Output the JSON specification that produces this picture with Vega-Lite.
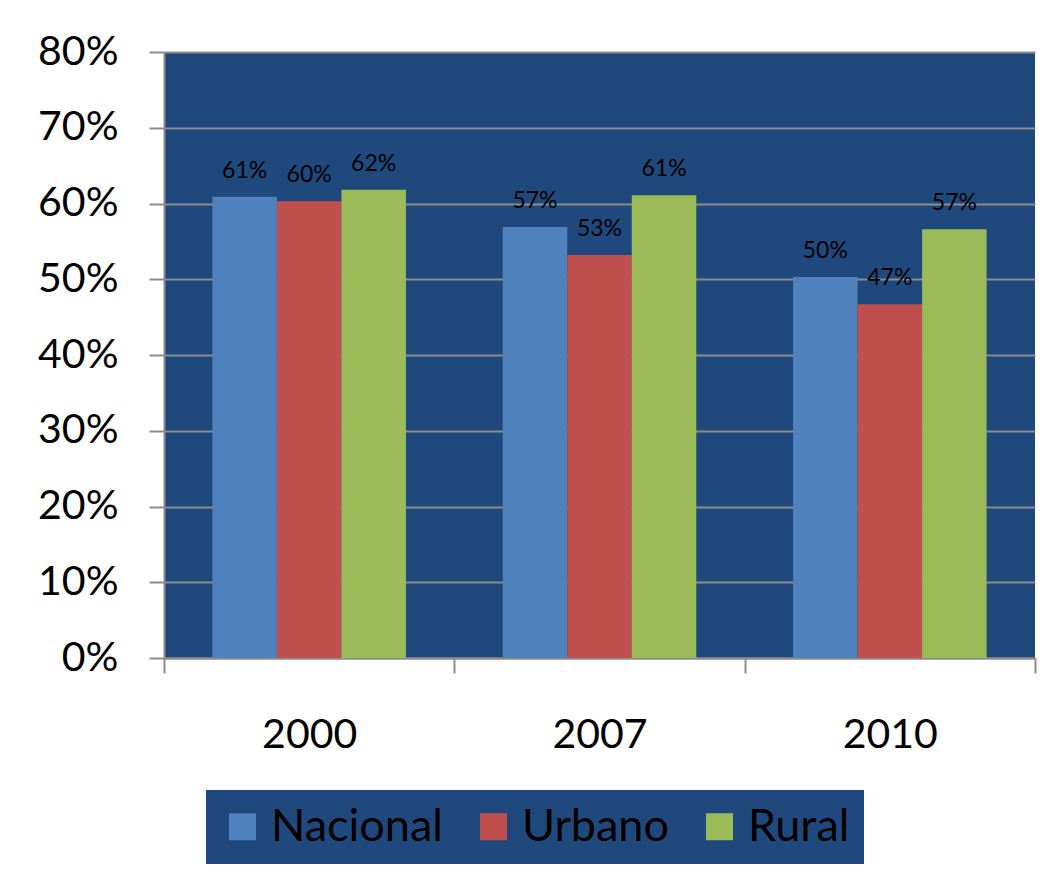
{
  "$schema": "https://vega.github.io/schema/vega-lite/v6.json",
  "width": 871,
  "height": 606,
  "autosize": {"type": "none"},
  "padding": {"left": 164, "top": 52, "right": 21, "bottom": 217},
  "background": "white",
  "data": {
    "values": [
      {"year": "2000", "area": "Nacional", "value": 0.609},
      {"year": "2000", "area": "Urbano", "value": 0.603},
      {"year": "2000", "area": "Rural", "value": 0.618},
      {"year": "2007", "area": "Nacional", "value": 0.569},
      {"year": "2007", "area": "Urbano", "value": 0.532},
      {"year": "2007", "area": "Rural", "value": 0.611},
      {"year": "2010", "area": "Nacional", "value": 0.503},
      {"year": "2010", "area": "Urbano", "value": 0.467},
      {"year": "2010", "area": "Rural", "value": 0.566}
    ]
  },
  "encoding": {
    "x": {
      "field": "year",
      "type": "nominal",
      "scale": {"paddingInner": 0, "paddingOuter": 0},
      "axis": {
        "title": null,
        "labelAngle": 0,
        "labelFont": "Lato",
        "labelFontSize": 41,
        "labelColor": "black",
        "labelPadding": 42,
        "tickBand": "extent",
        "tickSize": 15,
        "tickWidth": 2,
        "tickColor": "#8C8C8C",
        "domainColor": "#8C8C8C",
        "domainWidth": 2
      }
    },
    "xOffset": {
      "field": "area",
      "type": "nominal",
      "sort": ["Nacional", "Urbano", "Rural"],
      "scale": {"paddingInner": 0, "paddingOuter": 0.75}
    },
    "y": {
      "field": "value",
      "type": "quantitative",
      "scale": {"domain": [0, 0.8]},
      "axis": {
        "title": null,
        "values": [0, 0.1, 0.2, 0.3, 0.4, 0.5, 0.6, 0.7, 0.8],
        "format": ".0%",
        "labelFont": "Lato",
        "labelFontSize": 41,
        "labelColor": "black",
        "labelPadding": 31,
        "tickSize": 15,
        "tickWidth": 2,
        "tickColor": "#8C8C8C",
        "domainColor": "#8C8C8C",
        "domainWidth": 2,
        "grid": true,
        "gridColor": "#8C8C8C",
        "gridWidth": 2
      }
    }
  },
  "layer": [
    {
      "mark": {"type": "bar"},
      "encoding": {
        "color": {
          "field": "area",
          "type": "nominal",
          "scale": {
            "domain": ["Nacional", "Urbano", "Rural"],
            "range": ["#4F81BD", "#C0504D", "#9BBB59"]
          },
          "legend": {
            "title": null,
            "orient": "none",
            "legendX": 42,
            "legendY": 738,
            "direction": "horizontal",
            "fillColor": "#1F497D",
            "padding": 14,
            "symbolType": "square",
            "symbolSize": 729,
            "symbolStrokeWidth": 0,
            "symbolOpacity": 1,
            "labelFont": "Lato",
            "labelFontSize": 45,
            "labelLimit": 400,
            "labelColor": "black",
            "labelOffset": 6,
            "columnPadding": 28
          }
        }
      }
    },
    {
      "mark": {
        "type": "text",
        "baseline": "bottom",
        "dy": -14,
        "font": "Lato",
        "fontSize": 23,
        "color": "black"
      },
      "encoding": {
        "text": {"field": "value", "type": "quantitative", "format": ".0%"}
      }
    }
  ],
  "config": {
    "view": {"fill": "#1F497D", "stroke": null}
  }
}
